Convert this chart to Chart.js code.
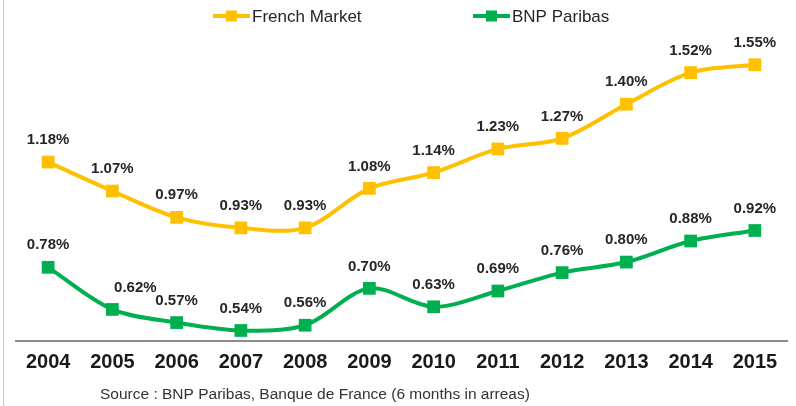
<!DOCTYPE html>
<html>
<head>
<meta charset="utf-8">
<script src="https://cdn.jsdelivr.net/npm/chart.js@4.4.1/dist/chart.umd.min.js"></script>
<style>
  html, body { margin: 0; padding: 0; background: #fff; }
  #wrap { position: relative; width: 796px; height: 406px; }
</style>
</head>
<body>
<div id="wrap"><canvas id="chart"></canvas></div>
<script>
const years = ['2004', '2005', '2006', '2007', '2008', '2009', '2010', '2011', '2012', '2013', '2014', '2015'];
const frenchMarket = [1.18, 1.07, 0.97, 0.93, 0.93, 1.08, 1.14, 1.23, 1.27, 1.40, 1.52, 1.55];
const bnpParibas = [0.78, 0.62, 0.57, 0.54, 0.56, 0.70, 0.63, 0.69, 0.76, 0.80, 0.88, 0.92];
const seriesNames = ['French Market', 'BNP Paribas'];
const sourceNote = 'Source : BNP Paribas, Banque de France (6 months in arreas)';

const YELLOW = '#FFC000';
const GREEN = '#00B050';
const FONT = "'Liberation Sans', Arial, sans-serif";

// value labels above each point
const valueLabels = {
  id: 'valueLabels',
  afterDatasetsDraw(chart) {
    const ctx = chart.ctx;
    ctx.save();
    ctx.font = 'bold 15px ' + FONT;
    ctx.fillStyle = '#262626';
    ctx.textAlign = 'center';
    ctx.textBaseline = 'middle';
    chart.data.datasets.forEach((ds, i) => {
      const shifts = ds.labelShift || {};
      chart.getDatasetMeta(i).data.forEach((pt, j) => {
        const dx = shifts[j] || 0;
        ctx.fillText(ds.data[j].toFixed(2) + '%', pt.x + dx, pt.y - 22);
      });
    });
    ctx.restore();
  }
};

// frame, legend and source line
const decorations = {
  id: 'decorations',
  afterDraw(chart) {
    const ctx = chart.ctx;
    ctx.save();
    ctx.strokeStyle = '#c8c8c8';
    ctx.lineWidth = 1;
    ctx.beginPath();
    ctx.moveTo(3.5, 0);
    ctx.lineTo(3.5, chart.height);
    ctx.stroke();

    const items = [
      { x: 213, color: YELLOW, text: seriesNames[0] },
      { x: 473, color: GREEN, text: seriesNames[1] }
    ];
    ctx.font = '17px ' + FONT;
    ctx.textBaseline = 'middle';
    ctx.textAlign = 'left';
    items.forEach(it => {
      const y = 16;
      ctx.strokeStyle = it.color;
      ctx.lineWidth = 4;
      ctx.beginPath();
      ctx.moveTo(it.x, y);
      ctx.lineTo(it.x + 37, y);
      ctx.stroke();
      ctx.fillStyle = it.color;
      ctx.fillRect(it.x + 13, y - 5.5, 11, 11);
      ctx.fillStyle = '#262626';
      ctx.fillText(it.text, it.x + 39, y + 1);
    });

    ctx.font = '15.5px ' + FONT;
    ctx.fillStyle = '#333';
    ctx.fillText(sourceNote, 100, 395);
    ctx.restore();
  }
};

new Chart(document.getElementById('chart').getContext('2d'), {
  type: 'line',
  data: {
    labels: years,
    datasets: [
      {
        label: seriesNames[0],
        data: frenchMarket,
        borderColor: YELLOW,
        backgroundColor: YELLOW,
        borderWidth: 4,
        tension: 0.32,
        pointStyle: 'rect',
        pointRadius: 9,
        pointHoverRadius: 9,
        pointBorderWidth: 0,
        fill: false
      },
      {
        label: seriesNames[1],
        data: bnpParibas,
        borderColor: GREEN,
        backgroundColor: GREEN,
        borderWidth: 4,
        tension: 0.32,
        pointStyle: 'rect',
        pointRadius: 9,
        pointHoverRadius: 9,
        pointBorderWidth: 0,
        fill: false,
        labelShift: { 1: 23 }
      }
    ]
  },
  options: {
    responsive: true,
    maintainAspectRatio: false,
    animation: false,
    layout: { padding: { top: 35, left: 16, right: 4, bottom: 25 } },
    plugins: {
      legend: { display: false },
      tooltip: { enabled: false }
    },
    scales: {
      x: {
        offset: true,
        grid: { display: false, drawTicks: false },
        border: { display: true, color: '#8c8c8c', width: 2 },
        ticks: {
          color: '#1a1a1a',
          padding: 9,
          font: { family: FONT, size: 20, weight: 'bold' }
        },
        afterFit(scale) { scale.height = 40; }
      },
      y: {
        display: false,
        min: 0.50,
        max: 1.663
      }
    }
  },
  plugins: [valueLabels, decorations]
});
</script>
</body>
</html>
